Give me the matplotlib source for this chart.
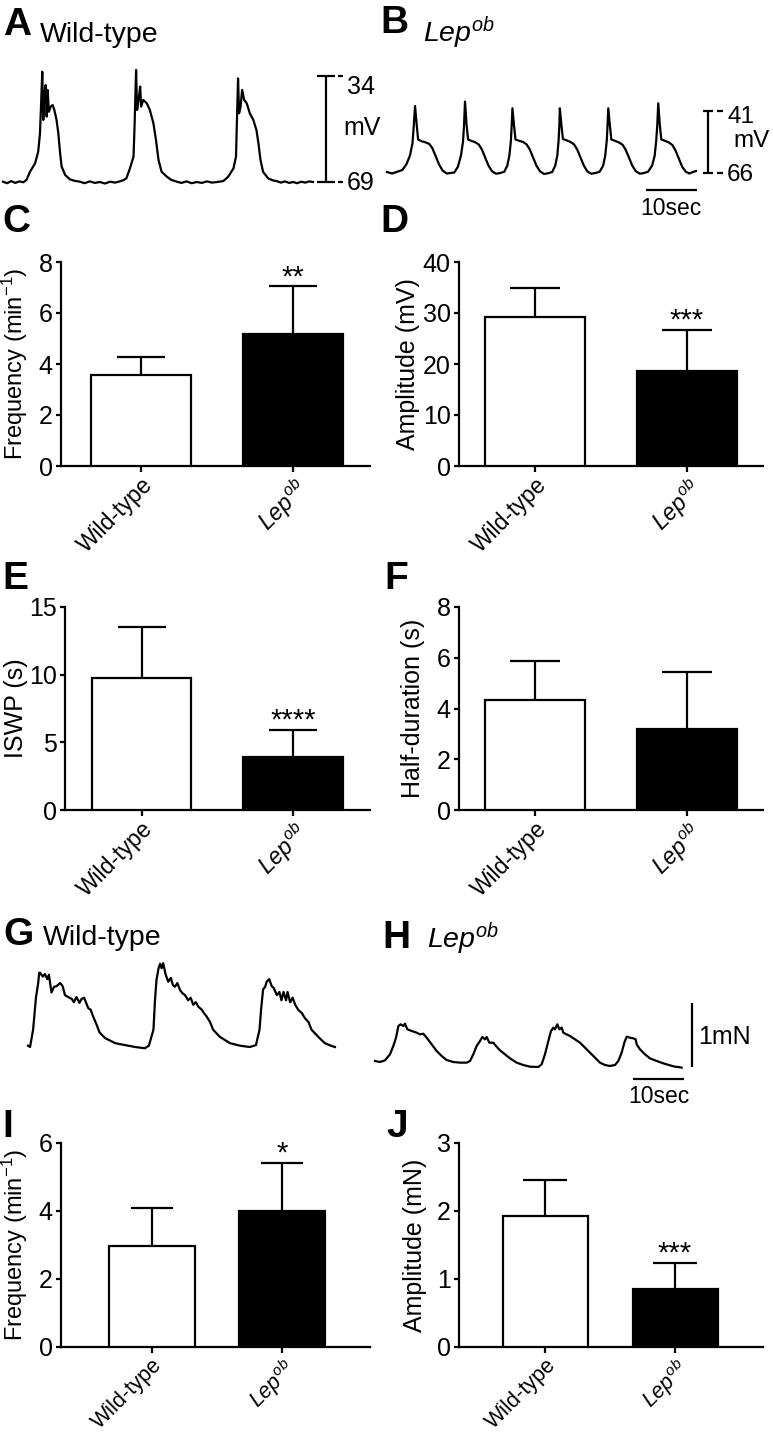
import matplotlib
matplotlib.use("Agg")
import matplotlib.pyplot as plt
import numpy as np

plt.rcParams["font.family"] = ["Liberation Sans", "DejaVu Sans"]
plt.rcParams["mathtext.fontset"] = "custom"
plt.rcParams["mathtext.rm"] = "Liberation Sans"
plt.rcParams["mathtext.it"] = "Liberation Sans:italic"
plt.rcParams["mathtext.bf"] = "Liberation Sans:bold"
plt.rcParams["mathtext.sf"] = "Liberation Sans"

# ---------------- data ----------------
groups = ["Wild-type", r"$Lep^{ob}$"]

C_mean = [3.57, 5.18]; C_err = [0.72, 1.86]      # Frequency (min-1), slow waves
D_mean = [29.3, 18.6]; D_err = [5.6, 8.1]        # Amplitude (mV)
E_mean = [9.75, 3.95]; E_err = [3.75, 1.97]      # ISWP (s)
F_mean = [4.34, 3.18]; F_err = [1.54, 2.25]      # Half-duration (s)
I_mean = [2.97, 4.00]; I_err = [1.11, 1.41]      # Frequency (min-1), contractions
J_mean = [1.92, 0.85]; J_err = [0.53, 0.38]      # Amplitude (mN)

C_star, D_star, E_star, F_star, I_star, J_star = "**", "***", "****", "", "*", "***"

# membrane potential traces (time s, mV)
trace_A = [(0.0, -68.9), (0.8, -69.4), (1.6, -68.7), (2.4, -69.3), (3.2, -68.8), (4.0, -69.1),
           (4.6, -68.3), (5.3, -65.6), (6.3, -62.8), (6.9, -59.0), (7.25, -53.0), (7.5, -42.0),
           (7.7, -32.6), (7.9, -48.5), (8.1, -40.8), (8.37, -37.0), (8.56, -47.4), (8.76, -38.6),
           (9.0, -45.8), (9.35, -44.1), (9.74, -43.6), (10.07, -45.2), (10.5, -48.5), (10.85, -52.9),
           (11.2, -59.5), (11.5, -63.9), (12.2, -66.7), (13.1, -68.1), (14.0, -68.6), (15.1, -68.9),
           (16.0, -69.4), (17.0, -68.8), (18.0, -69.3), (19.0, -69.0), (20.0, -69.5), (21.0, -68.9),
           (22.0, -69.2), (22.9, -68.8), (23.6, -68.4), (24.2, -67.8), (24.9, -64.5), (25.6, -60.6),
           (25.8, -50.7), (26.1, -32.0), (26.3, -45.2), (26.6, -41.9), (26.9, -37.5), (27.1, -44.1),
           (27.5, -41.9), (28.2, -43.0), (28.8, -45.2), (29.5, -49.6), (30.0, -55.1), (30.5, -61.7),
           (31.1, -65.6), (32.1, -67.2), (33.0, -68.3), (34.1, -68.9), (35.0, -69.3), (36.0, -68.8),
           (37.0, -69.4), (38.0, -69.0), (39.0, -69.3), (40.0, -68.8), (41.0, -69.2), (42.0, -69.0),
           (43.2, -68.7), (44.2, -67.2), (45.2, -64.5), (45.7, -60.6), (45.9, -47.4), (46.1, -34.8),
           (46.3, -46.3), (46.6, -44.1), (46.9, -38.6), (47.3, -41.9), (47.8, -43.0), (48.4, -46.3),
           (49.1, -48.5), (49.4, -50.2), (49.7, -51.8), (50.1, -56.2), (50.5, -61.7), (51.0, -65.6),
           (52.0, -67.8), (53.0, -68.5), (53.7, -68.7), (54.5, -69.2), (55.3, -68.8), (56.1, -69.3),
           (56.9, -69.0), (57.7, -69.4), (58.5, -68.9), (59.3, -69.2), (60.0, -68.8), (60.8, -69.0)]

trace_B = [(0.0, -65.6), (1.0, -66.2), (2.0, -65.5), (3.0, -64.8), (3.8, -62.5), (4.5, -59.0),
           (5.0, -54.0), (5.25, -47.0), (5.5, -39.0), (5.8, -46.0), (6.1, -52.5), (6.8, -53.2),
           (7.5, -53.6), (8.3, -54.3), (8.9, -56.0), (9.5, -59.0), (10.2, -62.5), (10.9, -65.0),
           (11.7, -66.2), (12.5, -66.0), (13.2, -65.8), (13.9, -63.5), (14.5, -59.0), (14.9, -53.5),
           (15.1, -47.0), (15.3, -37.2), (15.6, -46.5), (15.9, -52.5), (16.5, -53.0), (17.3, -53.6),
           (18.0, -54.5), (18.6, -56.5), (19.2, -59.5), (19.9, -63.0), (20.6, -65.3), (21.4, -66.3),
           (22.2, -66.0), (23.0, -65.5), (23.6, -63.0), (24.0, -59.0), (24.3, -53.0), (24.45, -47.0),
           (24.6, -39.9), (24.9, -46.5), (25.2, -52.5), (25.9, -53.0), (26.7, -53.5), (27.4, -54.5),
           (28.0, -56.5), (28.6, -59.5), (29.3, -63.0), (30.0, -65.3), (30.8, -66.4), (31.6, -66.1),
           (32.4, -65.6), (33.0, -63.0), (33.4, -59.0), (33.65, -53.0), (33.8, -47.0), (33.9, -39.9),
           (34.2, -46.5), (34.5, -52.3), (35.2, -52.8), (36.0, -53.5), (36.7, -54.5), (37.3, -56.5),
           (37.9, -59.5), (38.6, -63.0), (39.3, -65.4), (40.1, -66.3), (40.9, -66.0), (41.7, -65.5),
           (42.4, -63.0), (42.8, -59.0), (43.1, -53.0), (43.25, -47.0), (43.4, -39.9), (43.7, -46.5),
           (44.0, -52.5), (44.7, -53.0), (45.5, -53.7), (46.2, -54.6), (46.8, -56.6), (47.4, -59.5),
           (48.1, -63.0), (48.8, -65.3), (49.6, -66.3), (50.4, -66.0), (51.2, -65.5), (52.0, -63.0),
           (52.5, -59.0), (52.8, -53.0), (53.0, -47.0), (53.2, -37.9), (53.5, -46.5), (53.8, -52.5),
           (54.5, -53.0), (55.3, -53.7), (56.0, -54.8), (56.6, -57.0), (57.2, -60.0), (57.9, -63.5),
           (58.6, -65.5), (59.3, -66.2), (60.0, -65.6), (60.6, -65.2)]

# force traces (time s, mN above trough)
trace_G = [(0.0, 0.02), (0.4, 0.0), (1.0, 0.27), (1.57, 0.78), (2.0, 1.0), (2.2, 1.16), (2.35, 1.16),
           (2.9, 1.10), (3.3, 1.14), (3.8, 1.06), (4.1, 1.13), (4.6, 0.85), (5.1, 0.94), (5.6, 0.95),
           (6.3, 1.0), (6.8, 0.95), (7.25, 0.81), (7.9, 0.78), (8.6, 0.75), (9.0, 0.70), (9.5, 0.78),
           (10.1, 0.69), (10.5, 0.75), (11.0, 0.77), (11.4, 0.69), (11.8, 0.61), (12.3, 0.58),
           (12.8, 0.47), (13.5, 0.34), (14.0, 0.23), (15.1, 0.14), (17.1, 0.06), (19.0, 0.03),
           (21.0, 0.0), (22.9, -0.02), (23.7, 0.02), (24.6, 0.27), (24.9, 0.73), (25.2, 1.05),
           (25.6, 1.23), (25.9, 1.30), (26.2, 1.23), (26.5, 1.31), (27.0, 1.13), (27.5, 1.02),
           (28.0, 1.08), (28.4, 0.97), (28.8, 0.94), (29.3, 1.0), (29.8, 0.89), (30.3, 0.84),
           (30.8, 0.81), (31.4, 0.73), (31.9, 0.77), (32.4, 0.66), (32.9, 0.70), (33.4, 0.63),
           (34.1, 0.58), (34.5, 0.53), (35.0, 0.48), (35.7, 0.39), (36.3, 0.27), (37.6, 0.16),
           (39.6, 0.06), (41.6, 0.02), (43.5, 0.0), (44.7, 0.03), (45.4, 0.27), (45.7, 0.58),
           (46.1, 0.90), (46.5, 0.94), (46.8, 1.02), (47.3, 1.06), (47.8, 0.95), (48.2, 0.92),
           (48.8, 0.81), (49.3, 0.86), (49.7, 0.73), (50.1, 0.86), (50.6, 0.73), (50.9, 0.86),
           (51.4, 0.70), (51.9, 0.77), (52.4, 0.66), (53.0, 0.58), (53.7, 0.53), (54.3, 0.45),
           (55.0, 0.39), (55.6, 0.27), (56.9, 0.16), (58.2, 0.06), (59.4, 0.02), (60.2, 0.0)]

trace_H = [(0.0, 0.094), (0.98, 0.078), (1.96, 0.104), (2.94, 0.198), (3.59, 0.328), (4.12, 0.458),
           (4.58, 0.640), (5.03, 0.667), (5.56, 0.640), (5.88, 0.677), (6.34, 0.589), (7.19, 0.563),
           (8.17, 0.536), (8.82, 0.510), (9.48, 0.520), (10.13, 0.458), (11.11, 0.354), (12.09, 0.250),
           (13.07, 0.172), (14.05, 0.109), (15.36, 0.078), (16.67, 0.068), (17.97, 0.068), (18.63, 0.094),
           (19.28, 0.198), (19.93, 0.328), (20.59, 0.406), (21.05, 0.469), (21.57, 0.432), (21.90, 0.469),
           (22.42, 0.380), (23.20, 0.380), (23.73, 0.328), (24.51, 0.260), (25.49, 0.198), (26.47, 0.135),
           (27.78, 0.068), (29.08, 0.031), (30.39, 0.005), (32.03, 0.0), (32.68, 0.042), (33.33, 0.198),
           (33.99, 0.406), (34.51, 0.563), (34.97, 0.615), (35.29, 0.589), (35.75, 0.667), (36.14, 0.589),
           (36.60, 0.615), (36.93, 0.536), (37.58, 0.510), (38.24, 0.484), (39.22, 0.432), (40.20, 0.380),
           (41.18, 0.302), (42.16, 0.224), (43.14, 0.146), (44.12, 0.068), (45.10, 0.031), (46.08, 0.016),
           (47.06, 0.031), (47.71, 0.094), (48.37, 0.224), (48.89, 0.380), (49.35, 0.474), (50.00, 0.458),
           (50.65, 0.448), (51.11, 0.432), (51.31, 0.354), (51.96, 0.276), (52.94, 0.198), (53.92, 0.135),
           (55.23, 0.094), (56.54, 0.057), (57.84, 0.026), (58.82, 0.005), (59.48, 0.0), (60.13, -0.01)]

# ---------------- figure ----------------
W, H = 773, 1434
fig = plt.figure(figsize=(W / 100, H / 100), dpi=100)


def px_axes(x0, y0, x1, y1):
    return fig.add_axes([x0 / W, 1 - y1 / H, (x1 - x0) / W, (y1 - y0) / H])


def ftext(x, y, s, **kw):
    return fig.text(x / W, 1 - y / H, s, **kw)


LW = 1.6


def bar_panel(rect, xlim, width, ymax, ystep, means, errs, ylabel, star, capsize, label_x,
              label_fs=18, xtick_fs=16.5):
    ax = px_axes(*rect)
    ax.patch.set_alpha(0)
    x = np.arange(len(means))
    ax.bar(x, means, width=width, color=["white", "black"], edgecolor="black",
           linewidth=LW, zorder=3)
    eb = ax.errorbar(x, means, yerr=[np.zeros(len(errs)), errs], fmt="none",
                     ecolor="black", elinewidth=LW, capsize=capsize, capthick=LW, zorder=2)
    eb[1][0].set_visible(False)
    ax.set_xlim(*xlim)
    ax.set_ylim(0, ymax)
    ax.set_yticks(np.arange(0, ymax + ystep / 2, ystep))
    ax.set_xticks(x)
    ax.set_xticklabels(groups, rotation=45, ha="right", va="top", rotation_mode="anchor")
    for s in ["top", "right"]:
        ax.spines[s].set_visible(False)
    for s in ["left", "bottom"]:
        ax.spines[s].set_linewidth(LW)
    ax.tick_params(axis="y", length=3.5, width=LW, labelsize=18, pad=2.5)
    ax.tick_params(axis="x", length=4.5, width=LW, labelsize=xtick_fs, pad=1.0)
    ax.set_ylabel(ylabel, fontsize=label_fs)
    ax.yaxis.set_label_coords(label_x, 0.5)
    if star:
        ax.annotate(star, xy=(1, means[1] + errs[1]), xytext=(0, 1.0),
                    textcoords="offset points", ha="center", va="baseline", fontsize=21)
    return ax


bar_panel((61, 262, 370, 466), (-0.526, 1.507), 0.658, 8, 2, C_mean, C_err,
          r"Frequency (min$^{-1}$)", C_star, 17.6, -0.100, 17)
bar_panel((459, 262, 763, 466), (-0.5, 1.5), 0.658, 40, 10, D_mean, D_err,
          "Amplitude (mV)", D_star, 18.2, -0.128)
bar_panel((65, 607, 370, 810), (-0.505, 1.508), 0.655, 15, 5, E_mean, E_err,
          "ISWP (s)", E_star, 17.6, -0.122)
bar_panel((459, 607, 763, 810), (-0.5, 1.5), 0.658, 8, 2, F_mean, F_err,
          "Half-duration (s)", F_star, 18.0, -0.112)
bar_panel((61, 1143, 370, 1347), (-0.70, 1.677), 0.654, 6, 2, I_mean, I_err,
          r"Frequency (min$^{-1}$)", I_star, 14.8, -0.100, 17, 15.5)
bar_panel((459, 1143, 763, 1347), (-0.662, 1.677), 0.654, 3, 1, J_mean, J_err,
          "Amplitude (mN)", J_star, 15.5, -0.104, 18, 15.5)

# ---------------- traces ----------------
line_kw = dict(color="black", lw=LW, clip_on=False, solid_capstyle="butt")

# A
axA = px_axes(3, 76, 313, 182)
axA.set_xlim(0, 60.8); axA.set_ylim(-69, -34); axA.axis("off")
tA, vA = zip(*trace_A)
axA.plot(tA, vA, color="black", lw=1.6, clip_on=False)
sbA, capA = 63.3, 1.75
axA.plot([sbA, sbA], [-69, -34], **line_kw)
axA.plot([sbA - capA, sbA + capA], [-34, -34], **line_kw)
axA.plot([sbA - capA, sbA + capA], [-69, -69], **line_kw)
axA.plot([65.7, 66.7], [-34, -34], **line_kw)
axA.plot([65.7, 66.7], [-69, -69], **line_kw)
ftext(347, 75, "34", fontsize=18, ha="left", va="top")
ftext(343, 128, "mV", fontsize=18, ha="left", va="center")
ftext(347, 183, "69", fontsize=18, ha="left", va="center")

# B
axB = px_axes(387, 111, 697, 173)
axB.set_xlim(0, 60.8); axB.set_ylim(-66, -41); axB.axis("off")
tB, vB = zip(*trace_B)
axB.plot(tB, vB, color="black", lw=1.6, clip_on=False)
sbB, capB = 63.0, 1.0
axB.plot([sbB, sbB], [-66, -41], **line_kw)
axB.plot([sbB - capB, sbB + capB], [-41, -41], **line_kw)
axB.plot([sbB - capB, sbB + capB], [-66, -66], **line_kw)
axB.plot([64.8, 65.9], [-41, -41], **line_kw)
axB.plot([64.8, 65.9], [-66, -66], **line_kw)
axB.plot([50.8, 60.8], [-72.9, -72.9], **line_kw)
ftext(727, 106, "41", fontsize=17.5, ha="left", va="top")
ftext(733, 141, "mV", fontsize=17.5, ha="left", va="center")
ftext(727, 175, "66", fontsize=17.5, ha="left", va="center")
ftext(671, 197, "10sec", fontsize=16.5, ha="center", va="top")

# G
axG = px_axes(28, 983, 335, 1047)
axG.set_xlim(0, 60.2); axG.set_ylim(0, 1); axG.axis("off")
tG, fG = zip(*trace_G)
axG.plot(tG, fG, color="black", lw=1.6, clip_on=False)

# H
axH = px_axes(375, 1003, 682, 1067)
axH.set_xlim(0, 60.2); axH.set_ylim(0, 1); axH.axis("off")
tH, fH = zip(*trace_H)
axH.plot(tH, fH, color="black", lw=1.6, clip_on=False)
axH.plot([62.2, 62.2], [0, 1], **line_kw)
axH.plot([50.6, 60.6], [-0.19, -0.19], **line_kw)
ftext(698, 1037, "1mN", fontsize=18, ha="left", va="center")
ftext(659, 1085, "10sec", fontsize=16.5, ha="center", va="top")

# ---------------- panel letters & headings ----------------
letter_kw = dict(fontsize=28, fontweight="bold", ha="left", va="baseline")
ftext(3, 35, "A", **letter_kw)
ftext(40, 42, "Wild-type", fontsize=20.5, ha="left", va="baseline")
ftext(380, 33, "B", **letter_kw)
ftext(423, 42, r"$Lep^{ob}$", fontsize=20.5, ha="left", va="baseline")
ftext(2, 232, "C", **letter_kw)
ftext(380, 232, "D", **letter_kw)
ftext(2, 589, "E", **letter_kw)
ftext(384, 589, "F", **letter_kw)
ftext(3, 945, "G", **letter_kw)
ftext(43, 945, "Wild-type", fontsize=20.5, ha="left", va="baseline")
ftext(382, 948, "H", **letter_kw)
ftext(427, 948, r"$Lep^{ob}$", fontsize=20.5, ha="left", va="baseline")
ftext(2, 1137, "I", **letter_kw)
ftext(386, 1137, "J", **letter_kw)

fig.savefig("out.png", dpi=100)
